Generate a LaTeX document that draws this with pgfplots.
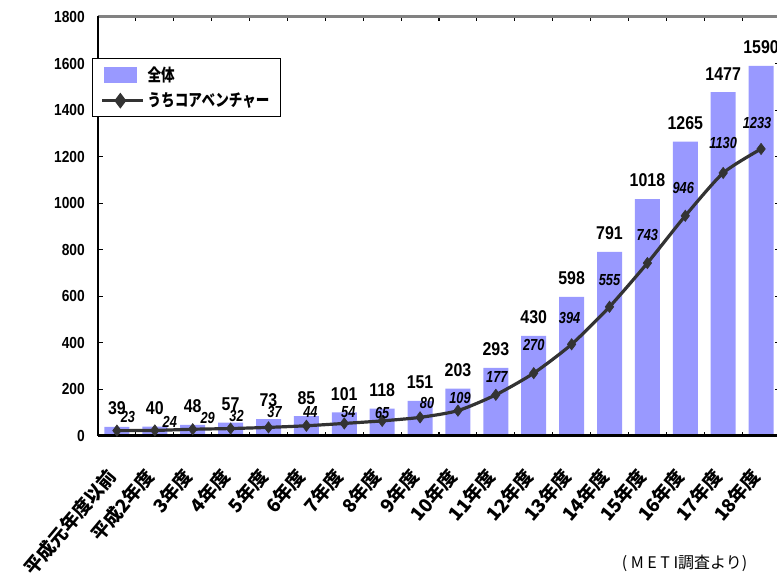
\documentclass[border=0pt]{standalone}
\usepackage{pgfplots}
\pgfplotsset{compat=1.18}
\usepackage{pgfplotstable}
\usepackage{fontspec}
\setmainfont{Liberation Sans}
\newfontfamily\numb{Liberation Sans}[FakeStretch=0.86]
\newfontfamily\numi{Liberation Sans}[FakeStretch=0.80]
\newfontfamily\jpleg{Noto Sans CJK JP}[FakeStretch=0.80]
\newfontfamily\jptick{Noto Sans CJK JP}
\newfontfamily\jpnote{Noto Sans CJK JP}

\definecolor{barfill}{RGB}{153,153,255}
\definecolor{coreline}{RGB}{51,51,51}
\definecolor{topline}{RGB}{130,130,130}

% x: category index, total: all ventures, core: core ventures,
% dx/dy: offset of the core-venture value label (px)
\pgfplotstableread{
x total core dx dy
0 39 23 11 14
1 40 24 15 8
2 48 29 15 11
3 57 32 6 13
4 73 37 6 15
5 85 44 4 14
6 101 54 4 11
7 118 65 0 8
8 151 80 7 14
9 203 109 2 13
10 293 177 1 18
11 430 270 0 28
12 598 394 -2 26
13 791 555 0 27
14 1018 743 0 28
15 1265 946 -2 28
16 1477 1130 0 30
17 1590 1233 -4 26
}\ventures

\begin{document}
\begin{tikzpicture}
\useasboundingbox (0,0) rectangle (582.75pt,435.75pt);
\begin{axis}[
  at={(73.5pt,108.75pt)}, anchor=south west,
  scale only axis, width=511.5pt, height=314.25pt,
  xmin=-0.5, xmax=17.5, ymin=0, ymax=1800,
  clip=false,
  axis line style={draw=none},
  /pgf/number format/assume math mode=true,
  /pgf/number format/1000 sep={},
  ytick={0,200,...,1800},
  xtick={0,...,17},
  xticklabels={平成元年度以前,平成2年度,3年度,4年度,5年度,6年度,7年度,8年度,9年度,10年度,11年度,12年度,13年度,14年度,15年度,16年度,17年度,18年度},
  minor xtick={0.5,1.5,...,16.5},
  tick align=inside,
  major x tick style={draw=none},
  minor x tick style={black, line width=0.9pt},
  minor tick length=3pt,
  major tick length=3.75pt,
  y tick style={black, line width=0.9pt},
  yticklabel style={font=\numb\bfseries\fontsize{12pt}{12pt}\selectfont, inner sep=0pt},
  yticklabel shift=9.75pt,
  xticklabel style={font=\jptick\bfseries\fontsize{14pt}{14pt}\selectfont, xshift=-3.5pt, rotate=50, anchor=east, inner sep=0pt},
  xticklabel shift=27pt,
  legend style={
    at={(-0.0088,0.9021)}, anchor=north west,
    draw=black, line width=1.1pt, fill=white,
    font=\jpleg\bfseries\fontsize{12.75pt}{13pt}\selectfont,
    inner xsep=6pt, inner ysep=4pt, row sep=3pt,
    cells={anchor=west, inner xsep=0pt},
  },
  legend cell align=left,
]
% all ventures: bars
\addplot[ybar, bar width=18.75pt, fill=barfill, draw=none,
  nodes near coords,
  nodes near coords style={font=\numb\bfseries\fontsize{13.9pt}{14pt}\selectfont,
    anchor=center, yshift=13.9pt, text=black},
  legend image code/.code={\fill[barfill] (1.5pt,-6pt) rectangle (26.25pt,6pt);},
] table[x=x, y=total] {\ventures};
\addlegendentry{全体}

% core ventures: smoothed line with value labels
\addplot[coreline, line width=2.4pt, smooth, tension=0.4,
  mark=diamond*, mark size=4.2pt, mark options={fill=coreline, draw=coreline, line width=0.5pt},
  visualization depends on={\thisrow{dx} \as \ldx},
  visualization depends on={\thisrow{dy} \as \ldy},
  nodes near coords,
  nodes near coords style={font=\numi\bfseries\itshape\fontsize{12pt}{12pt}\selectfont,
    anchor=center, xshift={\ldx*0.75pt}, yshift={\ldy*0.75pt}, text=black},
  legend image code/.code={\draw[coreline, line width=2.4pt] (0pt,0pt) -- (30.75pt,0pt);
    \fill[coreline] (13.5pt,0pt) +(0,4pt) -- +(3pt,0) -- +(0,-4pt) -- +(-3pt,0) -- cycle;},
] table[x=x, y=core] {\ventures};
\addlegendentry{うちコアベンチャー}

% frame
\draw[topline, line width=2.25pt] (rel axis cs:0,1) -- (rel axis cs:1,1);
\draw[black, line width=1.5pt] (rel axis cs:0,0) -- (rel axis cs:0,1.003);
\draw[black, line width=2.25pt] (rel axis cs:0,0) -- (rel axis cs:1,0);
\end{axis}
\node[font=\jpnote\fontsize{12pt}{13pt}\selectfont, anchor=east] at (564pt,13.5pt) {( M E T I調査より)};
\end{tikzpicture}
\end{document}
